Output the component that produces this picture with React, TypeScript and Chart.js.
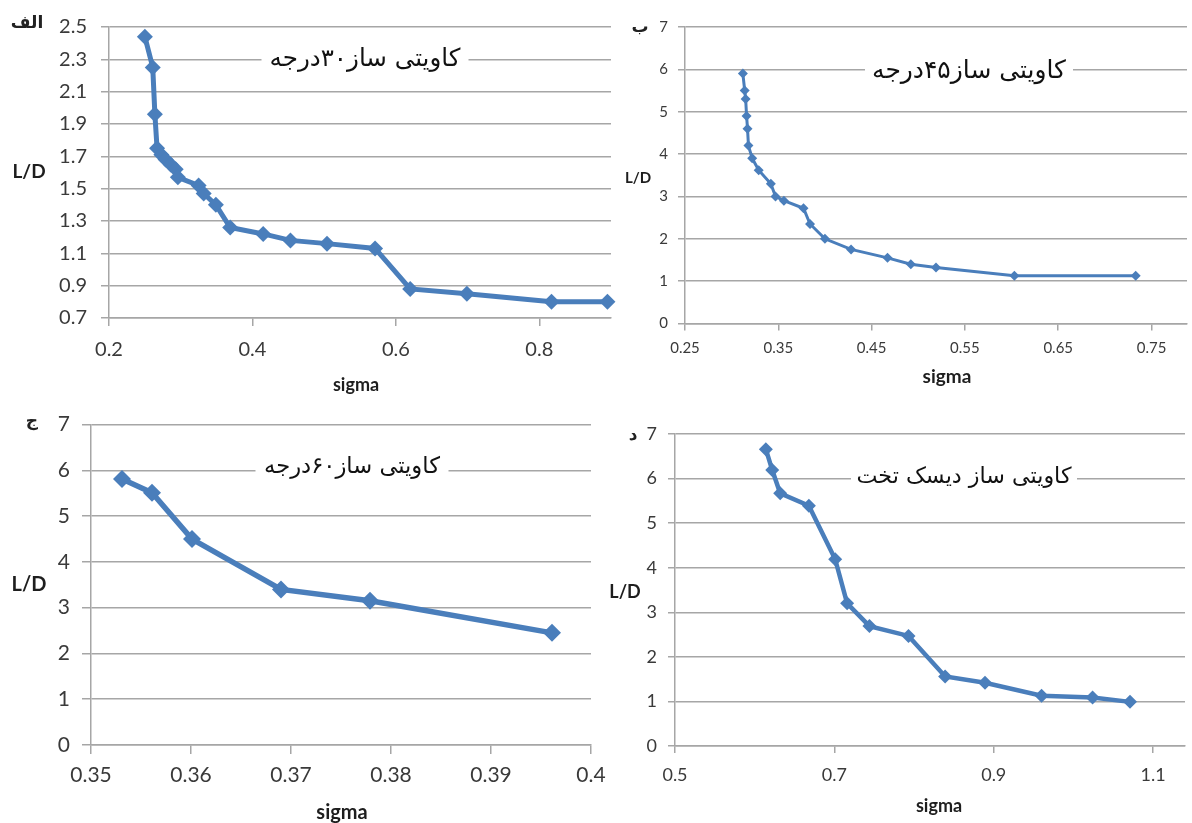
import React, { useEffect, useRef } from "react";
import { Chart, registerables } from "chart.js";
Chart.register(...registerables);

// ---------- DATA ----------
// Panel الف : 30 degree cavitator
const sigmaA = [0.25, 0.261, 0.264, 0.267, 0.273, 0.279, 0.286, 0.293, 0.296, 0.325, 0.332, 0.349, 0.369, 0.415, 0.453, 0.504, 0.571, 0.62, 0.699, 0.817, 0.895];
const ldA = [2.44, 2.25, 1.96, 1.75, 1.71, 1.68, 1.65, 1.62, 1.57, 1.52, 1.47, 1.4, 1.26, 1.22, 1.18, 1.16, 1.13, 0.88, 0.85, 0.8, 0.8];
const xTicksA = [0.2, 0.4, 0.6, 0.8];
const yTicksA = [0.7, 0.9, 1.1, 1.3, 1.5, 1.7, 1.9, 2.1, 2.3, 2.5];

// Panel ب : 45 degree cavitator
const sigmaB = [0.312, 0.314, 0.315, 0.316, 0.317, 0.318, 0.322, 0.329, 0.342, 0.347, 0.356, 0.377, 0.384, 0.4, 0.428, 0.467, 0.492, 0.519, 0.603, 0.733];
const ldB = [5.9, 5.5, 5.3, 4.9, 4.6, 4.2, 3.9, 3.62, 3.3, 3.0, 2.9, 2.72, 2.35, 2.0, 1.75, 1.55, 1.4, 1.32, 1.13, 1.13];
const xTicksB = [0.25, 0.35, 0.45, 0.55, 0.65, 0.75];
const yTicksB = [0, 1, 2, 3, 4, 5, 6, 7];

// Panel ج : 60 degree cavitator
const sigmaC = [0.3531, 0.3561, 0.3601, 0.369, 0.3779, 0.3961];
const ldC = [5.81, 5.51, 4.5, 3.4, 3.15, 2.45];
const xTicksC = [0.35, 0.36, 0.37, 0.38, 0.39, 0.4];
const yTicksC = [0, 1, 2, 3, 4, 5, 6, 7];

// Panel د : flat disk cavitator
const sigmaD = [0.614, 0.622, 0.632, 0.668, 0.701, 0.716, 0.744, 0.793, 0.839, 0.889, 0.96, 1.024, 1.071];
const ldD = [6.66, 6.19, 5.67, 5.39, 4.19, 3.2, 2.69, 2.47, 1.56, 1.42, 1.13, 1.09, 0.99];
const xTicksD = [0.5, 0.7, 0.9, 1.1];
const yTicksD = [0, 1, 2, 3, 4, 5, 6, 7];

const titles = ["کاویتی ساز۳۰درجه", "کاویتی ساز۴۵درجه", "کاویتی ساز۶۰درجه", "کاویتی ساز دیسک تخت"];
const cornerLabels = ["الف", "ب", "ج", "د"];
const xTitle = "sigma";
const yTitle = "L/D";

// ---------- STYLE / LAYOUT ----------
const BLUE = "#4a7ebb";
const GRID = "#a6a6a6";
const TICK_COLOR = "#3a3a3a";
const LATIN = "Lato, 'Open Sans', sans-serif";
const PERSIAN = "'DejaVu Sans', 'Noto Sans', serif";

type Panel = {
  box: { left: number; top: number; w: number; h: number };
  area: { l: number; t: number; r: number; b: number };
  xRange: [number, number];
  yRange: [number, number];
  xs: number[];
  ys: number[];
  xTicks: number[];
  yTicks: number[];
  tickSize: number;
  tickLen: number;
  xPad: number;
  yPad: number;
  lineWidth: number;
  radius: number;
  title: string;
  titleC: [number, number];
  titleW: number;
  boxW: number;
  corner: string;
  cornerC: [number, number];
  cornerSize: number;
  ldC: [number, number];
  ldSize: number;
  sigC: [number, number];
  sigSize: number;
};

const panels: Panel[] = [
  {
    box: { left: 0, top: 0, w: 620, h: 400 },
    area: { l: 109, t: 27, r: 611, b: 318 },
    xRange: [0.2, 0.9], yRange: [0.7, 2.5],
    xs: sigmaA, ys: ldA, xTicks: xTicksA, yTicks: yTicksA,
    tickSize: 20, tickLen: 8, xPad: 12, yPad: 14, lineWidth: 5, radius: 8,
    title: titles[0], titleC: [365, 60], titleW: 191, boxW: 207,
    corner: cornerLabels[0], cornerC: [27, 24], cornerSize: 17,
    ldC: [29, 172], ldSize: 19, sigC: [356, 385], sigSize: 18,
  },
  {
    box: { left: 596, top: 0, w: 596, h: 400 },
    area: { l: 685, t: 27, r: 1192, b: 323.5 },
    xRange: [0.25, 0.788], yRange: [0, 7],
    xs: sigmaB, ys: ldB, xTicks: xTicksB, yTicks: yTicksB,
    tickSize: 15, tickLen: 7, xPad: 9, yPad: 10, lineWidth: 3, radius: 5,
    title: titles[1], titleC: [969, 72], titleW: 194, boxW: 208,
    corner: cornerLabels[1], cornerC: [640, 28], cornerSize: 17,
    ldC: [638, 178], ldSize: 15, sigC: [947, 377], sigSize: 19,
  },
  {
    box: { left: 0, top: 400, w: 620, h: 423 },
    area: { l: 91, t: 418, r: 591, b: 745 },
    xRange: [0.35, 0.4], yRange: [0, 7],
    xs: sigmaC, ys: ldC, xTicks: xTicksC, yTicks: yTicksC,
    tickSize: 21, tickLen: 9, xPad: 9, yPad: 12, lineWidth: 5.5, radius: 9,
    title: titles[2], titleC: [352, 467], titleW: 176, boxW: 193,
    corner: cornerLabels[2], cornerC: [32, 422], cornerSize: 17,
    ldC: [29, 585], ldSize: 20, sigC: [342, 813], sigSize: 20,
  },
  {
    box: { left: 596, top: 400, w: 596, h: 423 },
    area: { l: 675, t: 434, r: 1192, b: 746 },
    xRange: [0.5, 1.14], yRange: [0, 7],
    xs: sigmaD, ys: ldD, xTicks: xTicksD, yTicks: yTicksD,
    tickSize: 18, tickLen: 7, xPad: 11, yPad: 11, lineWidth: 4.5, radius: 7,
    title: titles[3], titleC: [964, 477], titleW: 215, boxW: 226,
    corner: cornerLabels[3], cornerC: [633, 436], cornerSize: 17,
    ldC: [625, 592], ldSize: 18, sigC: [939, 806], sigSize: 18,
  },
];

const fmt = (v: number) => String(+Number(v).toFixed(3));

function PanelChart({ p }: { p: Panel }) {
  const ref = useRef<HTMLCanvasElement | null>(null);
  useEffect(() => {
    if (!ref.current) return;
    const { box, area } = p;
    const textPlugin = {
      id: "panelText",
      afterDraw(chart: any) {
        const ctx = chart.ctx as CanvasRenderingContext2D;
        const ox = box.left, oy = box.top;
        ctx.save();
        // chart title with white box
        const base = 20;
        ctx.font = `${base}px ${PERSIAN}`;
        const mw = ctx.measureText(p.title).width || 1;
        const size = (base * p.titleW) / mw;
        ctx.fillStyle = "#ffffff";
        ctx.fillRect(p.titleC[0] - ox - p.boxW / 2, p.titleC[1] - oy - 14, p.boxW, 28);
        ctx.font = `${size}px ${PERSIAN}`;
        ctx.fillStyle = "#111111";
        ctx.textAlign = "center";
        ctx.textBaseline = "middle";
        (ctx as any).direction = "rtl";
        ctx.fillText(p.title, p.titleC[0] - ox, p.titleC[1] - oy);
        // corner label
        ctx.font = `bold ${p.cornerSize}px ${PERSIAN}`;
        ctx.fillStyle = "#222222";
        ctx.fillText(p.corner, p.cornerC[0] - ox, p.cornerC[1] - oy);
        (ctx as any).direction = "ltr";
        // axis titles
        ctx.fillStyle = "#1e1e1e";
        ctx.font = `bold ${p.ldSize}px ${LATIN}`;
        ctx.fillText(yTitle, p.ldC[0] - ox, p.ldC[1] - oy);
        ctx.font = `bold ${p.sigSize}px ${LATIN}`;
        ctx.fillText(xTitle, p.sigC[0] - ox, p.sigC[1] - oy);
        ctx.restore();
      },
    };
    const chart = new Chart(ref.current, {
      type: "line",
      data: {
        datasets: [
          {
            data: p.xs.map((x, i) => ({ x, y: p.ys[i] })),
            borderColor: BLUE,
            backgroundColor: BLUE,
            borderWidth: p.lineWidth,
            pointStyle: "rectRot",
            pointRadius: p.radius,
            pointBackgroundColor: BLUE,
            pointBorderColor: BLUE,
            pointBorderWidth: 0,
            tension: 0,
            clip: false as any,
          },
        ],
      },
      options: {
        animation: false,
        responsive: false,
        maintainAspectRatio: false,
        events: [],
        layout: {
          padding: {
            left: 0,
            top: area.t - box.top,
            right: box.left + box.w - area.r,
            bottom: 0,
          },
        },
        plugins: { legend: { display: false }, tooltip: { enabled: false }, title: { display: false } },
        scales: {
          x: {
            type: "linear",
            min: p.xRange[0],
            max: p.xRange[1],
            afterBuildTicks: (s: any) => {
              s.ticks = p.xTicks.map((v) => ({ value: v }));
            },
            afterFit: (s: any) => {
              s.height = box.top + box.h - area.b;
            },
            ticks: {
              autoSkip: false,
              maxRotation: 0,
              padding: p.xPad,
              color: TICK_COLOR,
              font: { family: LATIN, size: p.tickSize },
              callback: (v: any) => fmt(v),
            },
            grid: { drawOnChartArea: false, drawTicks: true, tickLength: p.tickLen, color: GRID, lineWidth: 1.5 },
            border: { display: true, color: GRID, width: 1.5 },
          },
          y: {
            type: "linear",
            min: p.yRange[0],
            max: p.yRange[1],
            afterBuildTicks: (s: any) => {
              s.ticks = p.yTicks.map((v) => ({ value: v }));
            },
            afterFit: (s: any) => {
              s.width = area.l - box.left;
            },
            ticks: {
              autoSkip: false,
              padding: p.yPad,
              color: TICK_COLOR,
              font: { family: LATIN, size: p.tickSize },
              callback: (v: any) => fmt(v),
            },
            grid: { drawTicks: true, tickLength: p.tickLen, color: GRID, lineWidth: 1.5 },
            border: { display: true, color: GRID, width: 1.5 },
          },
        },
      } as any,
      plugins: [textPlugin],
    });
    return () => chart.destroy();
  }, [p]);
  return (
    <canvas
      ref={ref}
      width={p.box.w}
      height={p.box.h}
      style={{ position: "absolute", left: p.box.left, top: p.box.top, width: p.box.w, height: p.box.h }}
    />
  );
}

export default function App() {
  return (
    <div style={{ position: "absolute", left: 0, top: 0, width: 1192, height: 823, background: "#ffffff", overflow: "hidden" }}>
      {panels.map((p, i) => (
        <PanelChart key={i} p={p} />
      ))}
    </div>
  );
}
